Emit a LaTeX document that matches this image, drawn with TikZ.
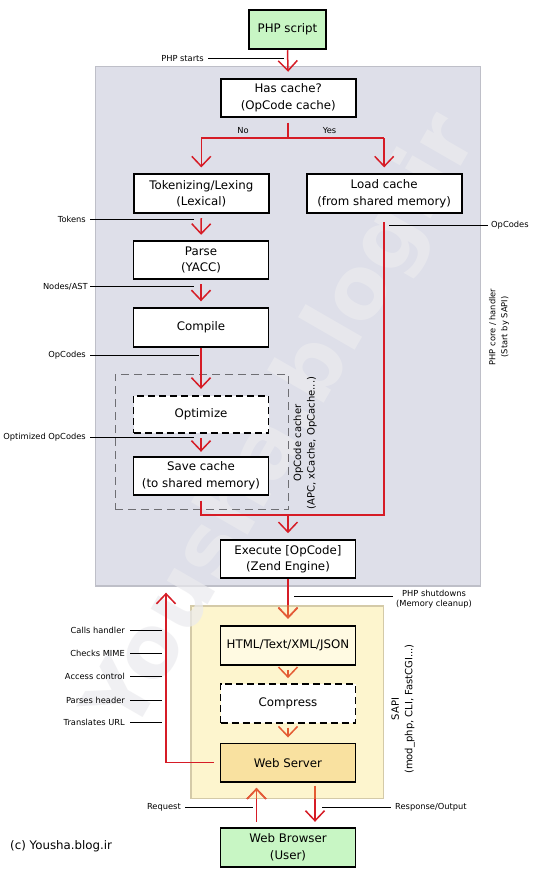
\documentclass[tikz,border=0pt]{standalone}
\usepackage{fontspec}
\setmainfont{DejaVu Sans}
\usetikzlibrary{arrows.meta}
\definecolor{rd}{RGB}{214,28,38}
\definecolor{og}{RGB}{228,92,52}
\definecolor{panelgray}{RGB}{222,223,233}
\definecolor{panelborder}{RGB}{190,191,200}
\definecolor{sapiy}{RGB}{253,245,206}
\definecolor{sapib}{RGB}{212,202,168}
\definecolor{htmlfill}{RGB}{255,250,226}
\definecolor{boxgreen}{RGB}{200,246,196}
\definecolor{webfill}{RGB}{249,225,160}
\definecolor{cachegray}{RGB}{110,110,115}
\definecolor{wmark}{RGB}{235,235,238}
\begin{document}
\begin{tikzpicture}[x=1pt,y=-1pt,
 box/.style={draw=black, line width=1.8pt, fill=white, minimum width=135pt, minimum height=38.6pt, align=center, inner sep=1pt, font=\fontsize{11.8}{16.3}\selectfont},
 dbox/.style={box, dash pattern=on 7pt off 4pt},
 flow/.style={draw=rd, line width=1.5pt, -{Straight Barb[length=10pt,width=19pt]}},
 oflow/.style={flow, draw=og},
 flowline/.style={draw=rd, line width=1.5pt},
 tag/.style={draw=black, line width=0.8pt},
 lbl/.style={font=\fontsize{8.3}{10}\selectfont, inner sep=1pt, align=center},
 vlbl/.style={font=\fontsize{10}{13.5}\selectfont, rotate=90, align=center, inner sep=0pt},
]
\useasboundingbox[fill=white] (0,0) rectangle (540,880);

% panels
\node[draw=panelborder, fill=panelgray, line width=1.2pt, minimum width=385pt, minimum height=519.3pt, inner sep=0pt] (core) at (288.2,326.35) {};
\node[draw=sapib, fill=sapiy, line width=1.2pt, minimum width=192.3pt, minimum height=192.3pt, inner sep=0pt] (sapi) at (287.2,702.2) {};

% watermark
\node[rotate=60, text=wmark, text opacity=0.7, font=\bfseries\fontsize{86}{86}\selectfont] (wm) at (285,425) {Yousha.blog.ir};

% opcode cacher dashed region
\node[draw=cachegray, line width=1.1pt, dash pattern=on 8pt off 5pt, minimum width=173.7pt, minimum height=134.7pt, inner sep=0pt] (cacher) at (201.9,441.7) {};

% nodes
\node[box, fill=boxgreen, minimum width=77pt, minimum height=39.3pt] (php) at (287.5,29.7) {PHP script};
\node[box, minimum height=38pt] (hc) at (288.2,97.7) {Has cache?\\(OpCode cache)};
\node[box, minimum height=39pt] (tok) at (201.3,193.8) {Tokenizing/Lexing\\(Lexical)};
\node[box, minimum width=155pt, minimum height=39pt] (load) at (384.2,193.8) {Load cache\\(from shared memory)};
\node[box] (parse) at (201,260) {Parse\\(YACC)};
\node[box] (compile) at (201,327.5) {Compile};
\node[dbox, minimum height=37.6pt] (optimize) at (201,414.5) {Optimize};
\node[box, minimum height=38pt] (save) at (201,475.7) {Save cache\\(to shared memory)};
\node[box, minimum height=38.3pt] (exec) at (288,559.2) {Execute [OpCode]\\(Zend Engine)};
\node[box, fill=htmlfill, minimum height=39.3pt] (html) at (288,645.3) {HTML/Text/XML/JSON};
\node[dbox] (compress) at (288,703.3) {Compress};
\node[box, fill=webfill] (web) at (288,762.7) {Web Server};
\node[box, fill=boxgreen, minimum height=39pt] (browser) at (288,847.2) {Web Browser\\(User)};

% flow arrows
\draw[flow, shorten >=6pt] (php.south) -- (hc.north);
\coordinate (split) at (288.2,138);
\draw[flowline] (hc.south) ++(0,5) -- (split);
\draw[flowline] (tok.north |- split) -- (load.north |- split);
\draw[flow, shorten >=6pt] (tok.north |- split) -- (tok.north);
\draw[flow, shorten >=6pt] (load.north |- split) -- (load.north);
\draw[flow, shorten <=4pt, shorten >=5pt] (tok.south) -- (parse.north);
\draw[flow, shorten <=4pt, shorten >=6pt] (parse.south) -- (compile.north);
\draw[flow, shorten >=6pt] (compile.south) -- (optimize.north);
\draw[flow, shorten <=4pt, shorten >=4pt] (optimize.south) -- (save.north);
\coordinate (join) at (288,515);
\draw[flowline] (load.south) ++(0,8) |- (join);
\draw[flowline] (save.south) ++(0,5) |- (join);
\draw[flow, shorten >=6pt] (join) -- (exec.north);
\draw[flow, shorten >=6pt] (exec.south) -- (html.north);
\draw[oflow, shorten <=4pt, shorten >=5pt] (html.south) -- (compress.north);
\draw[oflow, shorten <=4pt, shorten >=5pt] (compress.south) -- (web.north);
\coordinate (callsup) at (166,592.7);
\draw[flow] (web.west) ++(-6,0) -| (callsup);
\draw[flow, shorten <=5pt, shorten >=5pt] ([xshift=-31.5pt]browser.north) -- ([xshift=-31.5pt]web.south);
\draw[flow, shorten <=3pt, shorten >=5pt] ([xshift=27pt]web.south) -- ([xshift=27pt]browser.north);
% the same arrows, tinted where they lie inside the SAPI panel
\begin{scope}
\clip (sapi.north west) rectangle (sapi.south east);
\draw[oflow, shorten >=6pt] (exec.south) -- (html.north);
\draw[oflow, shorten <=5pt, shorten >=5pt] ([xshift=-31.5pt]browser.north) -- ([xshift=-31.5pt]web.south);
\draw[oflow, shorten <=3pt, shorten >=5pt] ([xshift=27pt]web.south) -- ([xshift=27pt]browser.north);
\end{scope}

% labels with tag lines
\node[lbl, anchor=east] (starts) at (205,58.3) {PHP starts};
\coordinate (startsE) at (284,58.3);
\draw[tag, shorten <=3pt] (starts.east) -- (startsE);
\node[lbl] (no) at (243,131) {No};
\node[lbl] (yes) at (329.5,131) {Yes};
\node[lbl, anchor=east] (tokens) at (87,219) {Tokens};
\coordinate (tokensE) at (194,219);
\draw[tag, shorten <=3pt] (tokens.east) -- (tokensE);
\node[lbl, anchor=east] (ast) at (89,286.7) {Nodes/AST};
\coordinate (astE) at (194,286.7);
\draw[tag, shorten <=1pt] (ast.east) -- (astE);
\node[lbl, anchor=east] (opl) at (87,355.7) {OpCodes};
\coordinate (oplE) at (199,355.7);
\draw[tag, shorten <=3pt] (opl.east) -- (oplE);
\node[lbl, anchor=east] (optl) at (87,437.7) {Optimized OpCodes};
\coordinate (optlE) at (194,437.7);
\draw[tag, shorten <=3pt] (optl.east) -- (optlE);
\node[lbl, anchor=west] (opr) at (490,225.3) {OpCodes};
\coordinate (oprW) at (389,225.3);
\draw[tag, shorten >=2pt] (oprW) -- (opr.west);
\node[lbl, anchor=west] (shut) at (395,599) {PHP shutdowns\\(Memory cleanup)};
\coordinate (shutW) at (294.4,596.7);
\draw[tag, shorten >=2pt] (shutW) -- (shut.west |- shutW);

\node[lbl, anchor=east] (calls) at (126,630.7) {Calls handler};
\node[lbl, anchor=east] (mime) at (126,653.3) {Checks MIME};
\node[lbl, anchor=east] (access) at (126,676.7) {Access control};
\node[lbl, anchor=east] (parses) at (126,700) {Parses header};
\node[lbl, anchor=east] (trans) at (126,722.7) {Translates URL};
\foreach \n/\y in {calls/630.7, mime/653.3, access/676.7, parses/700, trans/722.7}{
  \coordinate (\n E) at (162,\y);
  \draw[tag, shorten <=4pt] (\n.east) -- (\n E);
}
\node[lbl, anchor=east] (req) at (182,807.7) {Request};
\coordinate (reqE) at (253,807.7);
\draw[tag, shorten <=3pt] (req.east) -- (reqE);
\node[lbl, anchor=west] (resp) at (394,807.7) {Response/Output};
\coordinate (respW) at (322,807.7);
\draw[tag, shorten >=3pt] (respW) -- (resp.west);

% rotated labels
\node[vlbl] (cachelbl) at (305,443) {OpCode cacher\\(APC, xCache, OpCache...)};
\node[vlbl, font=\fontsize{8.3}{12}\selectfont] (corelbl) at (499,327) {PHP core / handler\\(Start by SAPI)};
\node[vlbl] (sapilbl) at (403,709) {SAPI\\(mod\_php, CLI, FastCGI...)};

\node[font=\fontsize{11.8}{14}\selectfont, anchor=west, inner sep=0pt] (copy) at (10,846.7) {(c) Yousha.blog.ir};
\end{tikzpicture}
\end{document}
